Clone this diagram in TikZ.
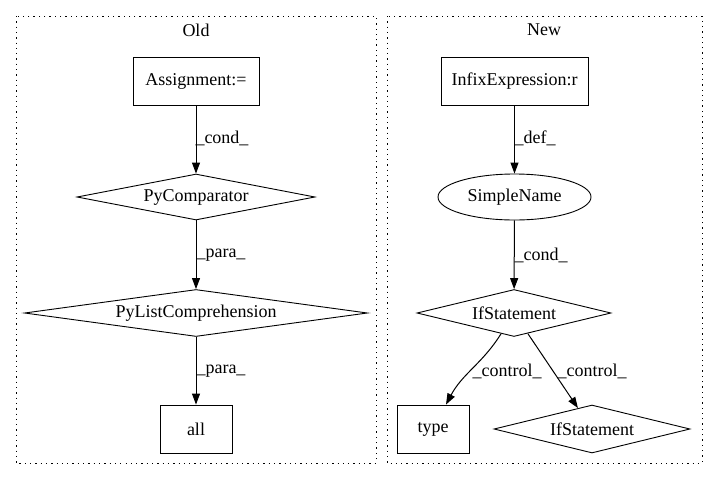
\documentclass[tikz,border=0pt]{standalone}
\usepackage{fontspec}
\setmainfont{Liberation Serif}
\usetikzlibrary{shapes.geometric,arrows.meta}
\begin{document}
\begin{tikzpicture}[x=1pt,y=-1pt,
  every node/.style={font=\fontsize{18pt}{20pt}\selectfont},
  box/.style={draw,line width=0.9pt,rectangle,inner sep=0pt},
  dia/.style={draw,line width=0.9pt,diamond,aspect=7,inner sep=0pt},
  ell/.style={draw,line width=0.9pt,ellipse,inner sep=0pt},
  cluster/.style={draw,line width=1pt,dash pattern=on 1.3pt off 4pt},
  arr/.style={line width=1pt,-{Triangle[width=8pt,length=11pt]}},
  lab/.style={inner sep=0pt}]
\useasboundingbox (0,0) rectangle (717,480);
\fill[white] (0,0) rectangle (717,480);
% clusters
\draw[cluster] (16,16) rectangle (376,463);
\draw[cluster] (387,16) rectangle (702,463);
\node[lab] (tOld) at (196,30) {Old};
\node[lab] (tNew) at (544,30) {New};
% Old
\node[box,minimum width=126pt,minimum height=48pt] (assign) at (196,81) {Assignment:=};
\node[dia,minimum width=238pt,minimum height=46pt] (pycmp) at (196,197) {PyComparator};
\node[dia,minimum width=343pt,minimum height=47pt] (pylc) at (196,313) {PyListComprehension};
\node[box,minimum width=72pt,minimum height=48pt] (all) at (196,429) {all};
\draw[arr] (assign) -- (pycmp);
\draw[arr] (pycmp) -- (pylc);
\draw[arr] (pylc) -- (all);
\node[lab] (l1) at (222,138) {\_cond\_};
\node[lab] (l2) at (221,255) {\_para\_};
\node[lab] (l3) at (221,371) {\_para\_};
% New
\node[box,minimum width=147pt,minimum height=48pt] (infix) at (514.5,81) {InfixExpression:r};
\node[ell,minimum width=153pt,minimum height=46pt] (sname) at (514.5,197) {SimpleName};
\node[dia,minimum width=194pt,minimum height=47pt] (if1) at (514,313) {IfStatement};
\node[box,minimum width=72pt,minimum height=48pt] (type) at (433,429) {type};
\node[dia,minimum width=196pt,minimum height=48pt] (if2) at (592,429) {IfStatement};
\draw[arr] (infix) -- (sname);
\draw[arr] (sname) -- (if1);
\draw[arr] (if1) to[out=-122,in=62] ([xshift=13pt]type.north);
\draw[arr] (if1) -- (if2);
\node[lab] (l4) at (535,138) {\_def\_};
\node[lab] (l5) at (541,255) {\_cond\_};
\node[lab] (l6) at (507,371) {\_control\_};
\node[lab] (l7) at (592,371) {\_control\_};
\end{tikzpicture}
\end{document}
